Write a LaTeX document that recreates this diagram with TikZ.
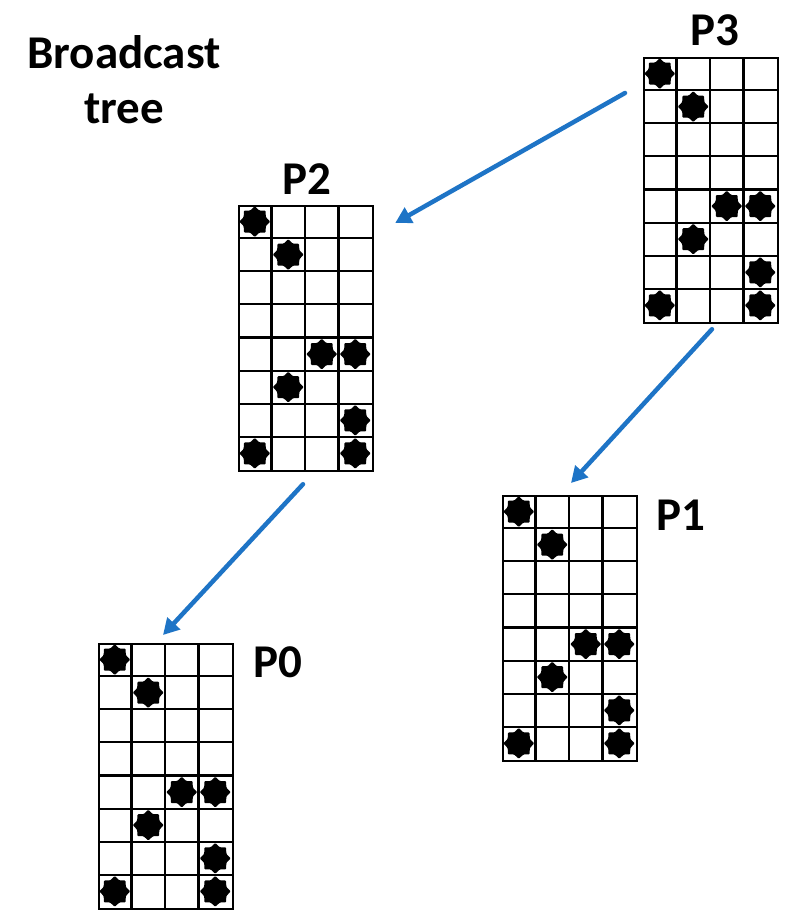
\documentclass[tikz,border=0pt]{standalone}
\usepackage{fontspec}
\setmainfont{Carlito}
\usetikzlibrary{arrows.meta,shapes.geometric,calc}
\definecolor{colArrow}{HTML}{1E74C6}
\def\lblfont{\fontsize{47pt}{55pt}\selectfont}
\def\cw{33.5}
\def\ch{33.125}
\tikzset{
  cellgrid/.style={draw=black, line width=2.2pt},
  gridbox/.style={draw=black, line width=2.2pt, inner sep=0pt, minimum width=134pt,
    minimum height=265pt, anchor=north west},
  dot/.style={star, star points=8, star point ratio=1.3, fill=black, inner sep=0pt,
    minimum size=31pt, rounded corners=1pt},
  bcast/.style={draw=colArrow, line width=4.5pt, line cap=round,
    -{Triangle[length=16pt,width=17pt]}},
  plabel/.style={font=\lblfont\bfseries, inner sep=0pt},
}
% one processor's 4x8 block, top-left corner at (#2,#3)
\newcommand{\pgrid}[3]{%
  \foreach \c in {1,2,3}
    \draw[cellgrid] ({#2+\c*\cw},#3) -- ++(0,265);
  \foreach \r in {1,...,7}
    \draw[cellgrid] (#2,{#3+\r*\ch}) -- ++(134,0);
  \node[gridbox] (#1) at (#2,#3) {};
  \foreach \r/\c in {0/0,1/1,4/2,4/3,5/1,6/3,7/0,7/3}
    \node[dot] (#1-\r-\c) at ({#2+(\c+0.5)*\cw},{#3+(\r+0.5)*\ch}) {};}

\begin{document}
\begin{tikzpicture}[x=1pt, y=-1pt]
\useasboundingbox (0,0) rectangle (794,914);

\node[font=\lblfont\bfseries, align=center, inner sep=0pt] (title) at (124,80)
  {Broadcast\\tree};

% ===================== blocks =====================
\pgrid{g3}{643}{57}
\pgrid{g2}{238}{205}
\pgrid{g1}{502}{495}
\pgrid{g0}{98}{643}

\node[plabel] (l3) at (715,30) {P3};
\node[plabel] (l2) at (307,179) {P2};
\node[plabel] (l1) at (681,515) {P1};
\node[plabel] (l0) at (278,662) {P0};

% ===================== tree edges =====================
\coordinate (e32s) at ($(g3.north west)+(-18,36)$);
\coordinate (e32t) at ($(g2.north east)+(21,18)$);
\coordinate (e31s) at ($(g3.south west)+(69,5)$);
\coordinate (e31t) at ($(g1.north west)+(69,-12)$);
\coordinate (e20s) at ($(g2.south west)+(65,12)$);
\coordinate (e20t) at ($(g0.north west)+(65,-8)$);
\draw[bcast] (e32s) -- (e32t);
\draw[bcast] (e31s) -- (e31t);
\draw[bcast] (e20s) -- (e20t);

\end{tikzpicture}
\end{document}
